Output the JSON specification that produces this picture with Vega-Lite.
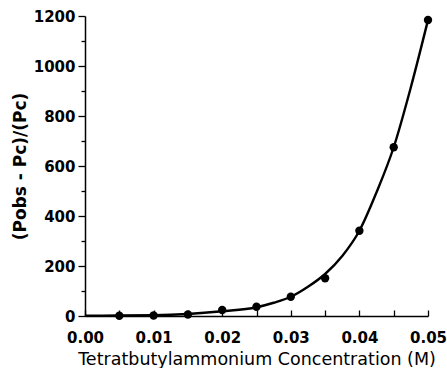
{
  "$schema": "https://vega.github.io/schema/vega-lite/v6.json",
  "width": 343,
  "height": 300,
  "autosize": {"type": "none"},
  "padding": {"left": 85, "top": 16, "right": 19, "bottom": 52},
  "background": "white",
  "config": {
    "view": {"stroke": null},
    "axis": {
      "domainColor": "black",
      "domainWidth": 1.5,
      "tickColor": "black",
      "tickWidth": 1.3,
      "grid": false,
      "labelFont": "DejaVu Sans",
      "labelFontWeight": "bold",
      "labelFontSize": 15,
      "labelColor": "black",
      "titleColor": "black",
      "titleFont": "DejaVu Sans"
    }
  },
  "datasets": {
    "points": [
      {"conc": 0.005, "ratio": 1},
      {"conc": 0.01, "ratio": 2},
      {"conc": 0.015, "ratio": 6},
      {"conc": 0.02, "ratio": 24},
      {"conc": 0.025, "ratio": 37},
      {"conc": 0.03, "ratio": 77},
      {"conc": 0.035, "ratio": 151},
      {"conc": 0.04, "ratio": 341},
      {"conc": 0.045, "ratio": 675},
      {"conc": 0.05, "ratio": 1184}
    ],
    "curve": [
      {"conc": 0, "ratio": 1},
      {"conc": 0.005, "ratio": 2},
      {"conc": 0.01, "ratio": 3},
      {"conc": 0.015, "ratio": 8},
      {"conc": 0.02, "ratio": 19},
      {"conc": 0.025, "ratio": 35},
      {"conc": 0.0275, "ratio": 53},
      {"conc": 0.03, "ratio": 77},
      {"conc": 0.0325, "ratio": 117},
      {"conc": 0.035, "ratio": 168},
      {"conc": 0.0375, "ratio": 240},
      {"conc": 0.04, "ratio": 341},
      {"conc": 0.0425, "ratio": 495},
      {"conc": 0.045, "ratio": 675},
      {"conc": 0.0475, "ratio": 915},
      {"conc": 0.05, "ratio": 1184}
    ]
  },
  "encoding": {
    "x": {
      "field": "conc",
      "type": "quantitative",
      "scale": {"domain": [0, 0.05], "nice": false, "zero": false},
      "axis": {
        "title": "Tetratbutylammonium Concentration (M)",
        "titleFontSize": 17.5,
        "titleFontWeight": "normal",
        "titlePadding": 5,
        "values": [0, 0.005, 0.01, 0.015, 0.02, 0.025, 0.03, 0.035, 0.04, 0.045, 0.05],
        "labelExpr": "round(datum.value * 200) % 2 == 0 ? format(datum.value, '.2f') : ''",
        "tickSize": -6,
        "labelPadding": 20,
        "labelFlush": false
      }
    },
    "y": {
      "field": "ratio",
      "type": "quantitative",
      "scale": {"domain": [0, 1200], "nice": false},
      "axis": {
        "title": "(Pobs - Pc)/(Pc)",
        "titleFontSize": 17,
        "titleFontWeight": "bold",
        "titlePadding": 4,
        "values": [0, 100, 200, 300, 400, 500, 600, 700, 800, 900, 1000, 1100, 1200],
        "labelExpr": "datum.value % 200 == 0 ? datum.value : ''",
        "tickSize": {"condition": {"test": "datum.value % 200 == 0", "value": 7}, "value": 4},
        "labelPadding": 3,
        "labelFlush": false
      }
    }
  },
  "layer": [
    {
      "data": {"name": "curve"},
      "mark": {"type": "line", "color": "black", "strokeWidth": 2.4, "interpolate": "monotone"}
    },
    {
      "data": {"name": "points"},
      "mark": {"type": "point", "filled": true, "color": "black", "opacity": 1, "size": 70}
    }
  ]
}
